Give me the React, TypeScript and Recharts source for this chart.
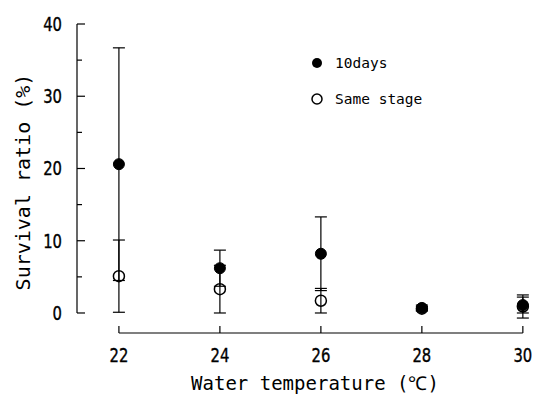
import React from "react";
import {
  ScatterChart,
  Scatter,
  XAxis,
  YAxis,
  ErrorBar,
  ReferenceLine,
  Legend,
} from "recharts";

const temps = [22, 24, 26, 28, 30];
const tenDays = [20.6, 6.2, 8.2, 0.7, 1.1];
const tenDaysErr = [16.1, 2.5, 5.1, 0.4, 1.1];
const sameStage = [5.1, 3.3, 1.7, 0.6, 0.9];
const sameStageErr = [5.0, 3.3, 1.7, 0.3, 1.6];
const yTicks = [0, 5, 10, 15, 20, 25, 30, 35, 40];
const xTicks = [22, 24, 26, 28, 30];
const seriesNames = ["10days", "Same stage"];

const tenData = temps.map((t, i) => ({ x: t, y: tenDays[i], err: tenDaysErr[i] }));
const sameData = temps.map((t, i) => ({ x: t, y: sameStage[i], err: sameStageErr[i] }));

const X_MIN = 21.17;
const X_MAX = 30.3;
const Y_MIN = -2.77;

const numFont = '"DejaVu Sans", sans-serif';
const monoFont = '"DejaVu Sans Mono", "Liberation Mono", monospace';

const NumText = ({ x, y, anchor, children }: any) => (
  <g transform={`translate(${x},${y}) scale(0.74,1)`}>
    <text
      x={0}
      y={0}
      textAnchor={anchor}
      dominantBaseline="central"
      fontFamily={numFont}
      fontSize={20}
      fill="#000"
      stroke="#000"
      strokeWidth={0.4}
    >
      {children}
    </text>
  </g>
);

const YTick = (props: any) => {
  const { x, y, payload } = props;
  const major = payload.value % 10 === 0;
  return (
    <g>
      <line x1={x} x2={x + (major ? 8 : 5)} y1={y} y2={y} stroke="#000" strokeWidth={1.2} />
      {major && (
        <NumText x={x - 15} y={y} anchor="end">
          {payload.value}
        </NumText>
      )}
    </g>
  );
};

const XTick = (props: any) => {
  const { x, y, payload } = props;
  return (
    <g>
      <line x1={x} x2={x} y1={y} y2={y - 7} stroke="#000" strokeWidth={1.2} />
      <NumText x={x} y={y + 22} anchor="middle">
        {payload.value}
      </NumText>
    </g>
  );
};

const FilledDot = (props: any) => (
  <circle cx={props.cx} cy={props.cy} r={5.5} fill="#000" stroke="#000" strokeWidth={1} />
);
const OpenDot = (props: any) => (
  <circle cx={props.cx} cy={props.cy} r={5.5} fill="none" stroke="#000" strokeWidth={1.5} />
);

const LegendContent = () => (
  <svg width={539} height={394} style={{ position: "absolute", left: 0, top: 0 }}>
    <circle cx={317} cy={63} r={5} fill="#000" />
    <text x={335} y={63} dominantBaseline="central" fontFamily={monoFont} fontSize={14.5} fill="#000">
      {seriesNames[0]}
    </text>
    <circle cx={317} cy={99} r={5} fill="none" stroke="#000" strokeWidth={1.5} />
    <text x={335} y={99} dominantBaseline="central" fontFamily={monoFont} fontSize={14.5} fill="#000">
      {seriesNames[1]}
    </text>
  </svg>
);

const XTitle = () => (
  <text
    x={315}
    y={383}
    textAnchor="middle"
    dominantBaseline="central"
    fontFamily={monoFont}
    fontSize={19}
    fill="#000"
  >
    Water temperature (℃)
  </text>
);

const YTitle = () => (
  <text
    x={23}
    y={182}
    transform="rotate(-90 23 182)"
    textAnchor="middle"
    dominantBaseline="central"
    fontFamily={monoFont}
    fontSize={20}
    fill="#000"
  >
    Survival ratio (%)
  </text>
);

export default function App() {
  return (
    <div style={{ position: "absolute", left: 0, top: 0, width: 539, height: 394, background: "#fff" }}>
      <ScatterChart
        width={539}
        height={394}
        margin={{ top: 24, right: 1, bottom: 0, left: 0 }}
      >
        <XAxis
          type="number"
          dataKey="x"
          domain={[X_MIN, X_MAX]}
          allowDataOverflow
          ticks={xTicks}
          interval={0}
          axisLine={false}
          tickLine={false}
          tickSize={0}
          tickMargin={0}
          height={61}
          tick={<XTick />}
          label={<XTitle />}
        />
        <YAxis
          type="number"
          dataKey="y"
          domain={[Y_MIN, 40]}
          allowDataOverflow
          ticks={yTicks}
          interval={0}
          axisLine={false}
          tickLine={false}
          tickSize={0}
          tickMargin={0}
          width={77}
          tick={<YTick />}
          label={<YTitle />}
        />
        <ReferenceLine
          segment={[{ x: X_MIN, y: 0 }, { x: X_MIN, y: 40 }]}
          stroke="#000"
          strokeWidth={1.2}
          ifOverflow="visible"
        />
        <ReferenceLine
          segment={[{ x: 22, y: Y_MIN }, { x: 30, y: Y_MIN }]}
          stroke="#000"
          strokeWidth={1.2}
          ifOverflow="visible"
        />
        <Legend layout="vertical" align="center" verticalAlign="middle" content={<LegendContent />}
          wrapperStyle={{ left: 0, top: 0, width: 539, height: 394 }} />
        <Scatter name={seriesNames[1]} data={sameData} shape={<OpenDot />} isAnimationActive={false}>
          <ErrorBar dataKey="err" direction="y" width={6} stroke="#000" strokeWidth={1.2} />
        </Scatter>
        <Scatter name={seriesNames[0]} data={tenData} shape={<FilledDot />} isAnimationActive={false}>
          <ErrorBar dataKey="err" direction="y" width={6} stroke="#000" strokeWidth={1.2} />
        </Scatter>
      </ScatterChart>
    </div>
  );
}
